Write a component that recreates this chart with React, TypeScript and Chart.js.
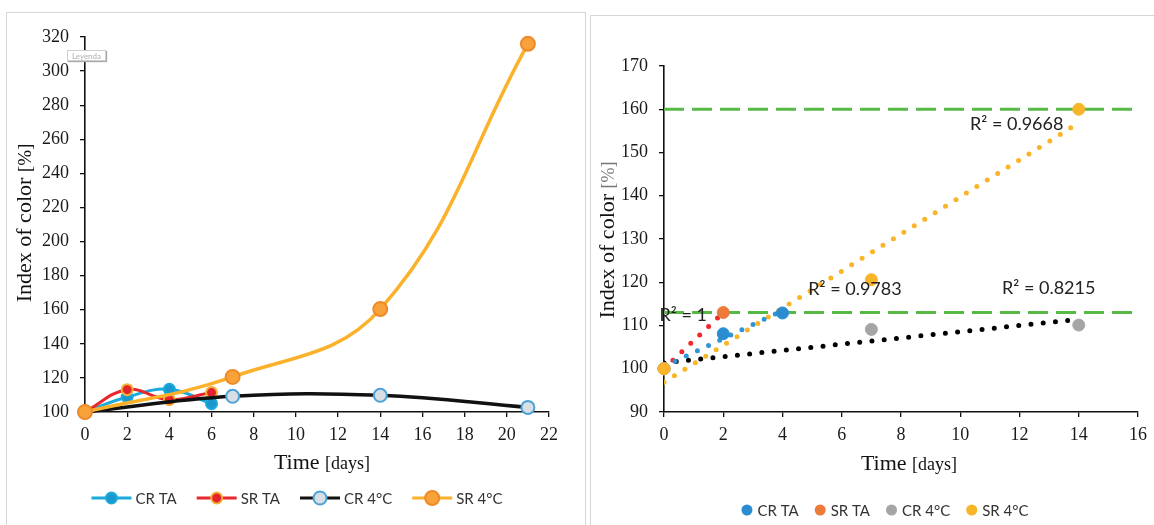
import { useEffect, useRef } from "react";
import { Chart, registerables } from "chart.js";

Chart.register(...registerables);

// ---------- data: left chart ----------
const seriesNames = ["CR TA", "SR TA", "CR 4°C", "SR 4°C"];
const leftDaysTA = [0, 2, 4, 6];
const leftDays4C = [0, 7, 14, 21];
const leftCrTA = [100, 108.8, 113.3, 104.9];
const leftSrTA = [100, 113.1, 107.2, 111.4];
const leftCr4C = [100, 109.2, 109.8, 102.7];
const leftSr4C = [100, 120.6, 160.4, 316];

// ---------- data: right chart ----------
const rightDaysCrTA = [0, 2, 4];
const rightCrTA = [100, 108.1, 112.9];
const rightDaysSrTA = [0, 2];
const rightSrTA = [100, 113];
const rightDays4C = [0, 7, 14];
const rightCr4C = [100, 109.1, 110.1];
const rightSr4C = [100, 120.6, 160];
const refLevels = [160, 113];
const refRange = [0, 15.9];
const r2Labels = ["R² = 1", "R² = 0.9783", "R² = 0.8215", "R² = 0.9668"];
const r2AnchorX = [-0.15, 4.87, 11.41, 10.33];
const r2AnchorY = [112.5, 118.3, 118.6, 156.5];

const SERIF = '"Liberation Serif", "Times New Roman", serif';
const SANS = 'Lato, Carlito, Calibri, sans-serif';

const pts = (xs: number[], ys: number[]) => xs.map((x, i) => ({ x, y: ys[i] }));

function linFit(xs: number[], ys: number[]) {
  const n = xs.length;
  const mx = xs.reduce((a, b) => a + b, 0) / n;
  const my = ys.reduce((a, b) => a + b, 0) / n;
  let sxy = 0, sxx = 0;
  for (let i = 0; i < n; i++) {
    sxy += (xs[i] - mx) * (ys[i] - my);
    sxx += (xs[i] - mx) * (xs[i] - mx);
  }
  const b = sxy / sxx;
  const a = my - b * mx;
  const x0 = xs[0], x1 = xs[n - 1];
  return [{ x: x0, y: a + b * x0 }, { x: x1, y: a + b * x1 }];
}

function drawTitle(ctx: CanvasRenderingContext2D, cx: number, cy: number, rotate: boolean,
  main: string, mainSize: number, bracket: string, bracketSize: number, bracketColor: string) {
  ctx.save();
  ctx.translate(cx, cy);
  if (rotate) ctx.rotate(-Math.PI / 2);
  ctx.textBaseline = "alphabetic";
  ctx.textAlign = "left";
  ctx.font = `${mainSize}px ${SERIF}`;
  const w1 = ctx.measureText(main + " ").width;
  ctx.font = `${bracketSize}px ${SERIF}`;
  const w2 = ctx.measureText(bracket).width;
  const start = -(w1 + w2) / 2;
  const base = mainSize * 0.35;
  ctx.font = `${mainSize}px ${SERIF}`;
  ctx.fillStyle = "#111";
  ctx.fillText(main, start, base);
  ctx.font = `${bracketSize}px ${SERIF}`;
  ctx.fillStyle = bracketColor;
  ctx.fillText(bracket, start + w1, base);
  ctx.restore();
}

const axisCommon = (min: number, max: number, step: number, isY: boolean, fitSize: number, pad: number) => ({
  type: "linear" as const,
  min,
  max,
  ticks: {
    stepSize: step,
    autoSkip: false,
    maxRotation: 0,
    padding: pad,
    color: "#1a1a1a",
    font: { family: SERIF, size: 18 },
  },
  grid: { drawOnChartArea: false, drawTicks: true, tickLength: 5, color: "#111", lineWidth: 1.3 },
  border: { display: true, color: "#111", width: 1.6 },
  afterFit: (s: any) => {
    if (isY) s.width = fitSize;
    else s.height = fitSize;
  },
});

export default function App() {
  const leftRef = useRef<HTMLCanvasElement | null>(null);
  const rightRef = useRef<HTMLCanvasElement | null>(null);

  useEffect(() => {
    const leftColors = [
      { line: "#1BAADC", fill: "#1A98CE", border: "#1BAADC", r: 5.5, w: 3 },
      { line: "#E8262B", fill: "#E3242B", border: "#F3B13A", r: 5.5, w: 3 },
      { line: "#111111", fill: "#D8DEE4", border: "#4BA3D6", r: 6.5, w: 3.5 },
      { line: "#FBB12A", fill: "#F9A23A", border: "#EE8A2A", r: 7, w: 3.5 },
    ];
    const leftData = [
      pts(leftDaysTA, leftCrTA),
      pts(leftDaysTA, leftSrTA),
      pts(leftDays4C, leftCr4C),
      pts(leftDays4C, leftSr4C),
    ];
    const leftOrder = [3, 2, 1, 0];

    const leftDecor = {
      id: "leftDecor",
      afterDraw(chart: any) {
        const ctx = chart.ctx as CanvasRenderingContext2D;
        drawTitle(ctx, 23, 223, true, "Index of color", 22, "[%]", 19, "#111");
        drawTitle(ctx, 322, 461, false, "Time", 22, "[days]", 18, "#111");
        // legend
        ctx.save();
        ctx.font = `15px ${SANS}`;
        const lineLen = 40, txtOff = 4, gap = 20;
        const widths = seriesNames.map((n) => ctx.measureText(n).width);
        const total = widths.reduce((a, w) => a + lineLen + txtOff + w, 0) + gap * 3;
        let x = 297 - total / 2;
        const y = 498;
        seriesNames.forEach((name, i) => {
          const c = leftColors[i];
          ctx.strokeStyle = c.line;
          ctx.lineWidth = 3;
          ctx.beginPath();
          ctx.moveTo(x, y);
          ctx.lineTo(x + lineLen, y);
          ctx.stroke();
          ctx.beginPath();
          ctx.arc(x + lineLen / 2, y, c.r, 0, Math.PI * 2);
          ctx.fillStyle = c.fill;
          ctx.fill();
          ctx.lineWidth = 2;
          ctx.strokeStyle = c.border;
          ctx.stroke();
          ctx.fillStyle = "#333";
          ctx.textBaseline = "middle";
          ctx.textAlign = "left";
          ctx.fillText(name, x + lineLen + txtOff, y + 1);
          x += lineLen + txtOff + widths[i] + gap;
        });
        ctx.restore();
      },
    };

    const left = new Chart(leftRef.current as HTMLCanvasElement, {
      type: "line",
      data: {
        datasets: leftData.map((d, i) => ({
          label: seriesNames[i],
          data: d,
          borderColor: leftColors[i].line,
          borderWidth: leftColors[i].w,
          backgroundColor: leftColors[i].fill,
          pointBackgroundColor: leftColors[i].fill,
          pointBorderColor: leftColors[i].border,
          pointBorderWidth: 2,
          pointRadius: leftColors[i].r,
          tension: 0.4,
          fill: false,
          clip: false as any,
          order: leftOrder[i],
        })),
      },
      options: {
        responsive: false,
        animation: false,
        devicePixelRatio: 1,
        layout: { padding: { left: 35, top: 37, right: 605, bottom: 73 } },
        plugins: { legend: { display: false }, tooltip: { enabled: false } },
        scales: {
          x: axisCommon(0, 22, 2, false, 40, 7) as any,
          y: axisCommon(100, 320, 20, true, 50, 11) as any,
        },
      },
      plugins: [leftDecor],
    });

    // ---------- right chart ----------
    const markerColors = ["#2B8CD2", "#EE7A3A", "#A5A5A5", "#F8B52A"];
    const trendColors = ["#2F96D6", "#F0272B", "#000000", "#F9B428"];
    const markerOrder = [3, 2, 1, 0];
    const markerData = [
      pts(rightDaysCrTA, rightCrTA),
      pts(rightDaysSrTA, rightSrTA),
      pts(rightDays4C, rightCr4C),
      pts(rightDays4C, rightSr4C),
    ];
    const trendData = [
      linFit(rightDaysCrTA, rightCrTA),
      linFit(rightDaysSrTA, rightSrTA),
      linFit(rightDays4C, rightCr4C),
      linFit(rightDays4C, rightSr4C),
    ];

    const rightDecor = {
      id: "rightDecor",
      afterDraw(chart: any) {
        const ctx = chart.ctx as CanvasRenderingContext2D;
        const xs = chart.scales.x, ys = chart.scales.y;
        ctx.save();
        ctx.font = `18px ${SANS}`;
        ctx.fillStyle = "#222";
        ctx.textAlign = "left";
        ctx.textBaseline = "middle";
        r2Labels.forEach((t, i) => {
          ctx.fillText(t, xs.getPixelForValue(r2AnchorX[i]), ys.getPixelForValue(r2AnchorY[i]));
        });
        ctx.restore();
        drawTitle(ctx, 606, 240, true, "Index of color", 22, "[%]", 18, "#777");
        drawTitle(ctx, 909, 462, false, "Time", 22, "[days]", 18, "#111");
        // legend
        ctx.save();
        ctx.font = `15px ${SANS}`;
        const r = 5.5, txtOff = 5, gap = 16;
        const widths = seriesNames.map((n) => ctx.measureText(n).width);
        const total = widths.reduce((a, w) => a + 2 * r + txtOff + w, 0) + gap * 3;
        let x = 885 - total / 2;
        const y = 510;
        seriesNames.forEach((name, i) => {
          ctx.beginPath();
          ctx.arc(x + r, y, r, 0, Math.PI * 2);
          ctx.fillStyle = markerColors[i];
          ctx.fill();
          ctx.fillStyle = "#333";
          ctx.textBaseline = "middle";
          ctx.textAlign = "left";
          ctx.fillText(name, x + 2 * r + txtOff, y + 1);
          x += 2 * r + txtOff + widths[i] + gap;
        });
        ctx.restore();
      },
    };

    const rightDatasets: any[] = [];
    markerData.forEach((d, i) => {
      rightDatasets.push({
        label: seriesNames[i],
        data: d,
        showLine: false,
        pointRadius: 6,
        pointBackgroundColor: markerColors[i],
        pointBorderColor: markerColors[i],
        pointBorderWidth: 1,
        clip: false,
        order: markerOrder[i],
      });
    });
    refLevels.forEach((lv) => {
      rightDatasets.push({
        label: "ref",
        data: refRange.map((x) => ({ x, y: lv })),
        borderColor: "#59B947",
        borderWidth: 3,
        borderDash: [20, 8],
        pointRadius: 0,
        tension: 0,
        order: 4,
      });
    });
    trendData.forEach((d, i) => {
      rightDatasets.push({
        label: "trend",
        data: d,
        borderColor: trendColors[i],
        borderWidth: 5,
        borderDash: [0, 12.3],
        borderCapStyle: "round",
        pointRadius: 0,
        tension: 0,
        order: 5,
      });
    });

    const right = new Chart(rightRef.current as HTMLCanvasElement, {
      type: "line",
      data: { datasets: rightDatasets },
      options: {
        responsive: false,
        animation: false,
        devicePixelRatio: 1,
        layout: { padding: { left: 614, top: 66, right: 12, bottom: 73 } },
        plugins: { legend: { display: false }, tooltip: { enabled: false } },
        scales: {
          x: axisCommon(0, 16, 2, false, 40, 7) as any,
          y: axisCommon(90, 170, 10, true, 50, 11) as any,
        },
      },
      plugins: [rightDecor],
    });

    return () => {
      left.destroy();
      right.destroy();
    };
  }, []);

  const canvasStyle: React.CSSProperties = { position: "absolute", left: 0, top: 0, width: 1154, height: 525 };

  return (
    <div style={{ position: "fixed", left: 0, top: 0, width: 1154, height: 525, overflow: "hidden", background: "#fff" }}>
      <div style={{ position: "absolute", left: 6, top: 12, width: 580, height: 530, border: "1px solid #d6d6d6", boxSizing: "border-box" }} />
      <div style={{ position: "absolute", left: 590, top: 15, width: 580, height: 530, border: "1px solid #d6d6d6", boxSizing: "border-box" }} />
      <canvas ref={leftRef} width={1154} height={525} style={canvasStyle} />
      <canvas ref={rightRef} width={1154} height={525} style={canvasStyle} />
      <div
        style={{
          position: "absolute", left: 67, top: 50, width: 39, height: 11,
          border: "1px solid #cfcfcf", boxShadow: "1px 1px 1px #aaa", background: "#fff",
          font: `8px ${SANS}`, color: "#b0b0b0", lineHeight: "11px", textAlign: "center", boxSizing: "border-box",
        }}
      >
        Leyenda
      </div>
    </div>
  );
}
